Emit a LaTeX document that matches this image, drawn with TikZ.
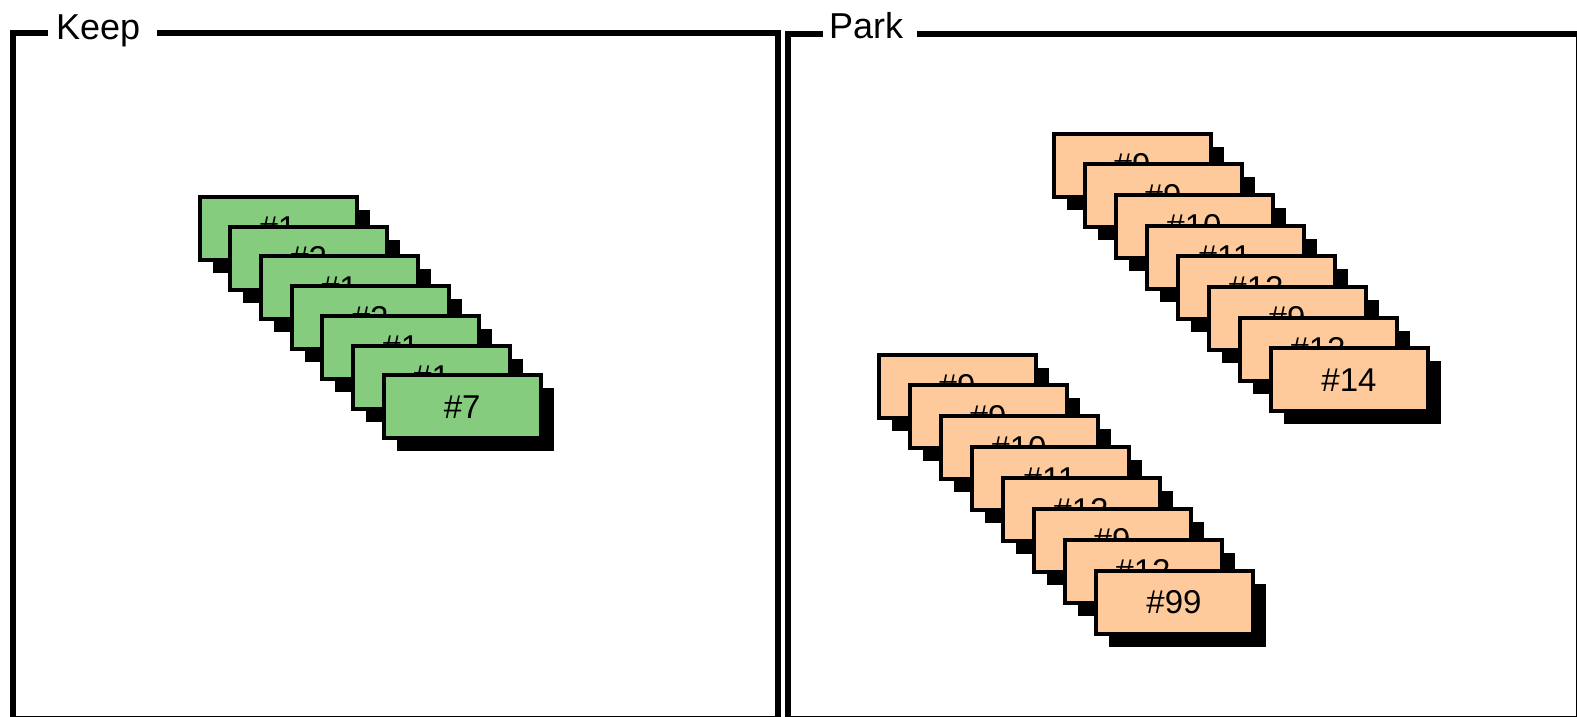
\documentclass[tikz,border=0pt]{standalone}
\usepackage{fontspec}
\setmainfont{Liberation Sans}
\usetikzlibrary{shadows}
\definecolor{cardgreen}{RGB}{134,204,126}
\definecolor{cardorange}{RGB}{255,202,155}
\tikzset{
  frameline/.style={line width=5.5pt, black, line cap=rect},
  title/.style={anchor=base west, inner sep=0pt, font=\fontsize{36}{40}\selectfont},
  card/.style={draw=black, line width=4pt, fill=#1, minimum width=157pt, minimum height=63pt,
    inner sep=0pt, font=\fontsize{33}{36}\selectfont,
    drop shadow={shadow xshift=13pt, shadow yshift=-13pt, fill=black, opacity=1}},
}
\begin{document}
\begin{tikzpicture}[x=1pt,y=-1pt]
\path[use as bounding box, fill=white] (0,0) rectangle (1577,716);
% Keep frame
\node[title] (keep) at (56,39) {Keep};
\draw[frameline] (45,33) -- (13,33) -- (13,722);
\draw[frameline] (160,33) -- (778,33) -- (778,722);
\draw[frameline] (13,719) -- (778,719);
% Park frame
\node[title] (park) at (829,38) {Park};
\draw[frameline] (820,34) -- (788,34) -- (788,722);
\draw[frameline] (920,34) -- (1580,34);
\draw[frameline] (1579,34) -- (1579,722);
\draw[frameline] (788,719) -- (1580,719);
% green stack
\foreach \i/\t in {0/1,1/2,2/1,3/2,4/1,5/1,6/7}{
  \node[card=cardgreen] (g\i) at (278+30.7*\i, 228.5+29.7*\i) {\#\t};
}
% orange stack A
\foreach \i/\t in {0/9,1/9,2/10,3/11,4/12,5/9,6/12,7/14}{
  \node[card=cardorange] (a\i) at (1132+31*\i, 165+30.7*\i) {\#\t};
}
% orange stack B
\foreach \i/\t in {0/9,1/9,2/10,3/11,4/12,5/9,6/12,7/99}{
  \node[card=cardorange] (b\i) at (957+31*\i, 386+30.9*\i) {\#\t};
}
\end{tikzpicture}
\end{document}
